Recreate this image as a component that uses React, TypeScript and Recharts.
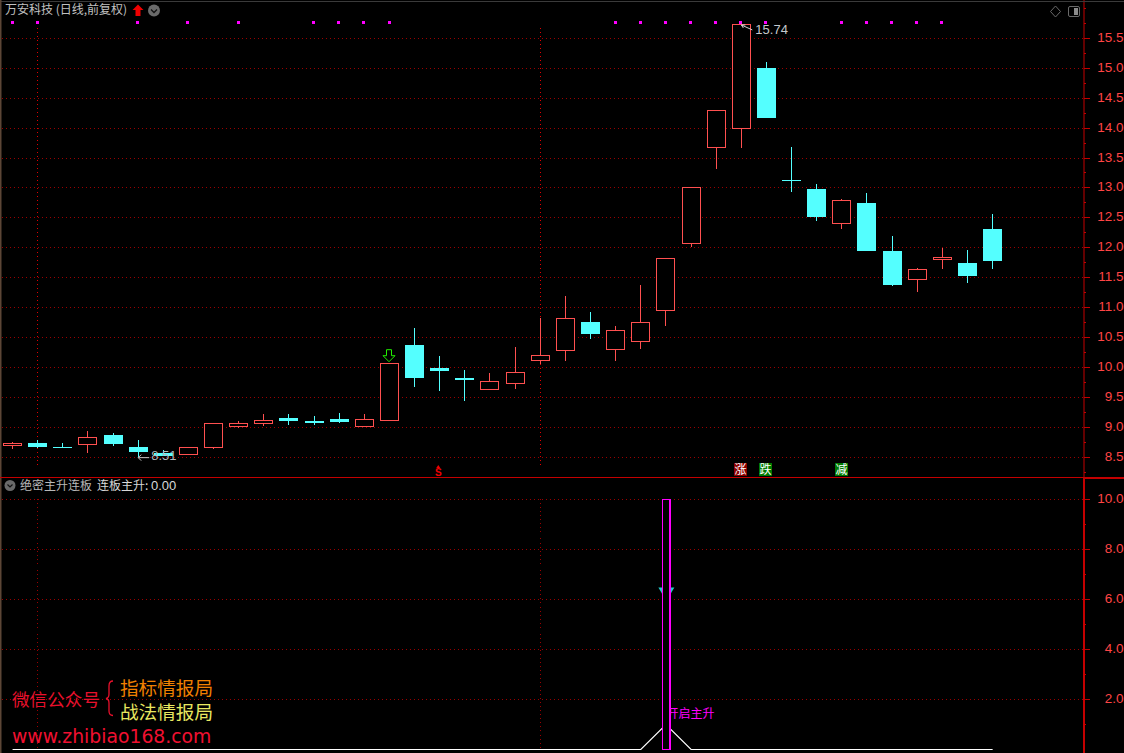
import React from 'react';
import { ComposedChart, Bar, Line, XAxis, YAxis, ReferenceLine, ReferenceDot } from 'recharts';

const opens = [8.71,8.74,8.67,8.73,8.87,8.67,8.58,8.56,8.68,9.02,9.08,9.155,9.105,9.14,9.03,9.13,10.38,10.0,9.82,9.64,9.74,10.13,10.30,10.77,10.32,10.45,10.96,12.08,13.69,14.0,15.0,13.14,12.99,12.41,12.75,11.945,11.49,11.81,11.745,12.32];
const closes = [8.75,8.67,8.655,8.85,8.72,8.59,8.53,8.67,9.08,9.07,9.13,9.11,9.07,9.09,9.15,10.08,9.82,9.94,9.79,9.77,9.93,10.22,10.83,10.57,10.63,10.76,11.83,13.02,14.30,15.74,14.17,13.13,12.52,12.80,11.945,11.39,11.65,11.85,11.53,11.78];
const highs = [8.75,8.79,8.74,8.94,8.91,8.79,8.62,8.67,9.08,9.105,9.22,9.22,9.19,9.24,9.22,10.08,10.66,10.19,9.96,9.91,10.34,10.83,11.20,10.92,10.70,11.37,11.83,13.02,14.30,15.74,15.11,13.69,13.06,12.82,12.91,12.19,11.67,11.99,11.97,12.56];
const lows = [8.64,8.65,8.655,8.57,8.69,8.51,8.53,8.545,8.64,8.995,9.03,9.04,9.04,9.07,9.03,9.13,9.67,9.61,9.44,9.64,9.64,10.05,10.11,10.47,10.11,10.31,10.70,12.01,13.31,13.67,14.17,12.94,12.44,12.31,11.94,11.36,11.26,11.64,11.41,11.64];
const signalIdx = [0,1,5,7,9,12,13,14,15,24,25,26,27,28,29,30,33,34,35,36,37];
const SIGNAL_PRICE = 15.77;
const mainValues = [0,0,0,0,0,0,0,0,0,0,0,0,0,0,0,0,0,0,0,0,0,0,0,0,0,0,1,0,0,0,0,0,0,0,0,0,0,0,0,0];
const spikeIdx = 26;
const SPIKE_TOP = 10;

const priceMajor = [8.5,9,9.5,10,10.5,11,11.5,12,12.5,13,13.5,14,14.5,15,15.5];
const priceMinor = [8.25,8.75,9.25,9.75,10.25,10.75,11.25,11.75,12.25,12.75,13.25,13.75,14.25,14.75,15.25,15.75,16];
const subMajor = [2,4,6,8,10];
const subMinor = [1,3,5,7,9];
const vLineIdx = [1,21];
const badges = [
  { i: 29, text: '涨', bg: '#8a0000' },
  { i: 30, text: '跌', bg: '#007a00' },
  { i: 33, text: '减', bg: '#007a00' },
];

const RED = '#ff5050';
const CYAN = '#54ffff';
const GRID = '#9a0000';
const AXIS = '#c40000';
const LABEL = '#ff4444';
const MAGENTA = '#ff00ff';
const SANS = '"Liberation Sans", Arial, sans-serif';
const CJK = '"Noto Sans CJK SC", sans-serif';
const PLOT_W = 1084;
const X_DOMAIN: [number, number] = [-0.5, 42.636];
const PRICE_DOMAIN: [number, number] = [8.17, 16.14];
const SUB_DOMAIN: [number, number] = [-0.14, 10.86];
const NO_MARGIN = { top: 0, right: 0, bottom: 0, left: 0 };
const BG_MARGIN = { top: 0, right: 40, bottom: 0, left: 0 };

const candleData = opens.map((o, i) => ({
  i, open: o, close: closes[i], high: highs[i], low: lows[i],
  signal: signalIdx.includes(i) ? SIGNAL_PRICE : null,
}));
const subData = mainValues.map((v, i) => ({
  i, value: v, spike: i === spikeIdx ? [0, SPIKE_TOP] : null,
}));

function Candle(props: any) {
  const { x, y, width, height, payload } = props;
  if (payload == null || height == null) return null;
  const { open, close, high, low } = payload;
  const span = high - low || 1;
  const py = (v: number) => y + ((high - v) / span) * height;
  const up = close >= open;
  const c = Math.floor(x + width / 2);
  const left = c - 9;
  const top = Math.round(py(Math.max(open, close)) + 0.25);
  const bot = Math.round(py(Math.min(open, close)) + 0.25);
  const color = up ? RED : CYAN;
  const yh = Math.round(y);
  const yl = Math.round(y + height);
  if (up) {
    return (
      <g shapeRendering="crispEdges">
        <line x1={c + 0.5} x2={c + 0.5} y1={yh} y2={yl} stroke={color} />
        <rect x={left + 0.5} y={top + 0.5} width={18} height={Math.max(bot - top, 1)} fill="#000" stroke={color} />
      </g>
    );
  }
  return (
    <g shapeRendering="crispEdges">
      <line x1={c + 0.5} x2={c + 0.5} y1={yh} y2={yl} stroke={color} />
      <rect x={left} y={top} width={19} height={Math.max(bot - top, 1)} fill={color} />
    </g>
  );
}

function SignalDot(props: any) {
  const { cx, cy, value } = props;
  if (value == null || cx == null) return <g />;
  return <rect x={Math.round(cx) - 2} y={Math.round(cy) - 1} width={3} height={3} fill={MAGENTA} />;
}

function AxisTick(props: any) {
  const { y, payload, majors } = props;
  const major = majors.includes(payload.value);
  const yy = Math.floor(y) + 0.5;
  return (
    <g>
      <line x1={PLOT_W} x2={PLOT_W + (major ? 6 : 2)} y1={yy} y2={yy} stroke={AXIS} shapeRendering="crispEdges" />
      {major && (
        <text x={1131} y={yy + 3.8} textAnchor="end" fontFamily={SANS} fontSize={13.5} fill={LABEL}>
          {payload.value.toFixed(2)}
        </text>
      )}
    </g>
  );
}

function Spike(props: any) {
  const { x, y, width, height } = props;
  if (height == null || !height) return <g />;
  const c = x + width / 2;
  const l = Math.round(c) - 4;
  return (
    <g>
      <polygon points={`${c - 8},${y + 88} ${c - 3},${y + 88} ${c - 3},${y + 97} ${c - 5},${y + 93}`} fill="#22c8c8" />
      <polygon points={`${c + 8},${y + 88} ${c + 3},${y + 88} ${c + 3},${y + 97} ${c + 5},${y + 93}`} fill="#22c8c8" />
      <text x={c} y={y + 218.5} fontFamily={CJK} fontSize={12} fill={MAGENTA}>开启主升</text>
      <rect x={l + 0.5} y={Math.floor(y) + 0.5} width={7.5} height={Math.round(height)} fill="#000" stroke={MAGENTA} strokeWidth={1.3} shapeRendering="crispEdges" />
    </g>
  );
}

const HighLabel = (props: any) => {
  const { cx, cy } = props;
  return (
    <g>
      <path d={`M${cx + 11} ${cy + 6} L${cx} ${cy + 1} M${cx} ${cy + 1} l4 0 M${cx} ${cy + 1} l2 3`} stroke="#d0d0d0" fill="none" />
      <text x={cx + 14} y={cy + 10} fontFamily={SANS} fontSize={13} fill="#c4c8cc">15.74</text>
    </g>
  );
};
const LowLabel = (props: any) => {
  const { cx, cy } = props;
  return (
    <g>
      <path d={`M${cx} ${cy + 1} L${cx + 11} ${cy + 1} M${cx} ${cy + 1} l3 -3 M${cx} ${cy + 1} l3 3`} stroke="#c8c8c8" fill="none" />
      <text x={cx + 13} y={cy + 3.5} fontFamily={SANS} fontSize={13} fill="#b0b6bc">8.51</text>
    </g>
  );
};
const GreenArrow = (props: any) => {
  const { cx, cy } = props;
  return (
    <path
      d={`M${cx - 3} ${cy - 13} h5 v6 h3.5 l-6 6 l-6 -6 h3.5 z`}
      fill="none" stroke="#22ee00" strokeWidth={1}
    />
  );
};
const SMark = (props: any) => {
  const { cx, cy } = props;
  const sx = cx - 1.5;
  return (
    <g>
      <polygon points={`${sx},${cy - 6} ${sx + 2},${cy - 3} ${sx - 2},${cy - 3}`} fill="#f00000" />
      <text x={sx} y={cy + 5} textAnchor="middle" fontFamily={SANS} fontWeight="bold" fontSize={10} fill="#f00000">S</text>
    </g>
  );
};
const Badge = (text: string, bg: string) => (props: any) => {
  const { cx, cy } = props;
  return (
    <g>
      <rect x={Math.round(cx) - 7} y={Math.round(cy) - 7} width={13} height={13} fill={bg} />
      <text x={Math.round(cx) - 0.5} y={Math.round(cy) + 4} textAnchor="middle" fontFamily={CJK} fontSize={12} fill="#fff">{text}</text>
    </g>
  );
};

const layer = (top: number): React.CSSProperties => ({ position: 'absolute', left: 0, top });

export default function App() {
  return (
    <div style={{ position: 'fixed', left: 0, top: 0, width: 1124, height: 753, background: '#000', overflow: 'hidden' }}>
      {/* grid layer of the price panel, beneath the candles */}
      <div style={layer(0)}>
        <ComposedChart width={1124} height={477} data={candleData} margin={BG_MARGIN}>
          <XAxis dataKey="i" type="number" domain={X_DOMAIN} hide allowDataOverflow />
          <YAxis hide domain={PRICE_DOMAIN} allowDataOverflow />
          {priceMajor.map((v) => (
            <ReferenceLine key={v} segment={[{ x: -0.42, y: v }, { x: 42.636, y: v }]} stroke={GRID} strokeDasharray="1 3" shapeRendering="crispEdges" />
          ))}
          {vLineIdx.map((i) => (
            <ReferenceLine key={i} segment={[{ x: i, y: 15.68 }, { x: i, y: 8.37 }]} stroke="#e00000" strokeDasharray="1 3" shapeRendering="crispEdges" />
          ))}
        </ComposedChart>
      </div>
      <div style={layer(0)}>
        <ComposedChart width={1124} height={477} data={candleData} margin={NO_MARGIN}>
          <XAxis dataKey="i" type="number" domain={X_DOMAIN} hide allowDataOverflow />
          <YAxis
            orientation="right" width={40} domain={PRICE_DOMAIN} allowDataOverflow
            ticks={[...priceMajor, ...priceMinor].sort((a, b) => a - b)} interval={0}
            axisLine={{ stroke: AXIS }} tickLine={false} tick={<AxisTick majors={priceMajor} />}
          />
          <Bar dataKey={(d: any) => [d.low, d.high]} barSize={19} shape={<Candle />} isAnimationActive={false} />
          <Line dataKey="signal" stroke="none" dot={<SignalDot />} activeDot={false} connectNulls={false} isAnimationActive={false} />
          <ReferenceDot x={29} y={15.74} shape={HighLabel} />
          <ReferenceDot x={5} y={8.51} shape={LowLabel} />
          <ReferenceDot x={15} y={10.08} shape={GreenArrow} />
          <ReferenceDot x={17} y={8.27} shape={SMark} />
          {badges.map((b) => (
            <ReferenceDot key={b.i} x={b.i} y={8.285} shape={Badge(b.text, b.bg)} />
          ))}
        </ComposedChart>
      </div>
      {/* grid and line layer of the lower panel, beneath the spike */}
      <div style={layer(478)}>
        <ComposedChart width={1124} height={275} data={subData} margin={BG_MARGIN}>
          <XAxis dataKey="i" type="number" domain={X_DOMAIN} hide allowDataOverflow />
          <YAxis hide domain={SUB_DOMAIN} allowDataOverflow />
          {subMajor.map((v) => (
            <ReferenceLine key={v} segment={[{ x: -0.42, y: v }, { x: 42.636, y: v }]} stroke={GRID} strokeDasharray="1 3" shapeRendering="crispEdges" />
          ))}
          {vLineIdx.map((i) => (
            <ReferenceLine key={i} segment={[{ x: i, y: 10.04 }, { x: i, y: 0.04 }]} stroke={GRID} strokeDasharray="1 3" shapeRendering="crispEdges" />
          ))}
          <Line dataKey="value" stroke="#ffffff" strokeWidth={1.2} dot={false} activeDot={false} isAnimationActive={false} />
        </ComposedChart>
      </div>
      <div style={layer(478)}>
        <ComposedChart width={1124} height={275} data={subData} margin={NO_MARGIN}>
          <XAxis dataKey="i" type="number" domain={X_DOMAIN} hide allowDataOverflow />
          <YAxis
            orientation="right" width={40} domain={SUB_DOMAIN} allowDataOverflow
            ticks={[...subMajor, ...subMinor].sort((a, b) => a - b)} interval={0}
            axisLine={{ stroke: AXIS, strokeWidth: 2 }} tickLine={false} tick={<AxisTick majors={subMajor} />}
          />
          <Bar dataKey="spike" barSize={8} shape={<Spike />} isAnimationActive={false} />
        </ComposedChart>
      </div>
      <svg width={1124} height={753} style={{ position: 'absolute', left: 0, top: 0, pointerEvents: 'none' }}>
        <rect x={0} y={1} width={1124} height={1} fill="#3a3a3a" />
        <rect x={0} y={0} width={1.5} height={753} fill="#5c4636" />
        <rect x={0} y={477} width={1084} height={1} fill="#c40000" />
        <rect x={1084} y={477} width={40} height={2} fill="#c40000" />
        <text x={5} y={14} fontFamily={CJK} fontSize={12} fill="#c0c0c0">万安科技 (日线,前复权)</text>
        <path d="M138 4.5 L143.5 10 L140.5 10 L140.5 16 L135.5 16 L135.5 10 L132.5 10 Z" fill="#f00000" />
        <circle cx={154} cy={10.5} r={6} fill="#6a6a6a" />
        <path d="M151 9.5 L154 12.5 L157 9.5" stroke="#111" strokeWidth={1.3} fill="none" />
        <path d="M1055.5 6 L1060.5 11.5 L1055.5 17 L1050.5 11.5 Z" stroke="#6a6a6a" fill="none" />
        <rect x={1068.5} y={6.5} width={11} height={10} rx={1.5} stroke="#6a6a6a" fill="none" />
        <rect x={1074} y={8} width={4} height={7} fill="#8a8a8a" />
        <circle cx={10} cy={485.5} r={5.5} fill="#6a6a6a" />
        <path d="M7.5 484.5 L10 487 L12.5 484.5" stroke="#111" strokeWidth={1.2} fill="none" />
        <text x={20} y={490} fontFamily={CJK} fontSize={12} fill="#b8b8b8">绝密主升连板</text>
        <text x={97} y={490} fontFamily={CJK} fontSize={12} fill="#d8d8d8">连板主升: <tspan fontFamily={SANS} fontSize={13}>0.00</tspan></text>
        <text x={12} y={706} fontFamily={CJK} fontSize={17.6} fill="#e8102c">微信公众号</text>
        <path d="M113 681 Q109 681 109 686 L109 694 Q109 698 106 698.5 Q109 699 109 703 L109 711 Q109 715.5 113 715.5" stroke="#e8102c" strokeWidth={1.3} fill="none" />
        <text x={120} y={694.5} fontFamily={CJK} fontSize={18.6} fill="#f08000">指标情报局</text>
        <text x={120} y={718.5} fontFamily={CJK} fontSize={18.6} fill="#e8e860">战法情报局</text>
        <text x={12} y={743} fontFamily={'"DejaVu Sans", sans-serif'} fontSize={18.8} fill="#f01030">www.zhibiao168.com</text>
      </svg>
    </div>
  );
}
